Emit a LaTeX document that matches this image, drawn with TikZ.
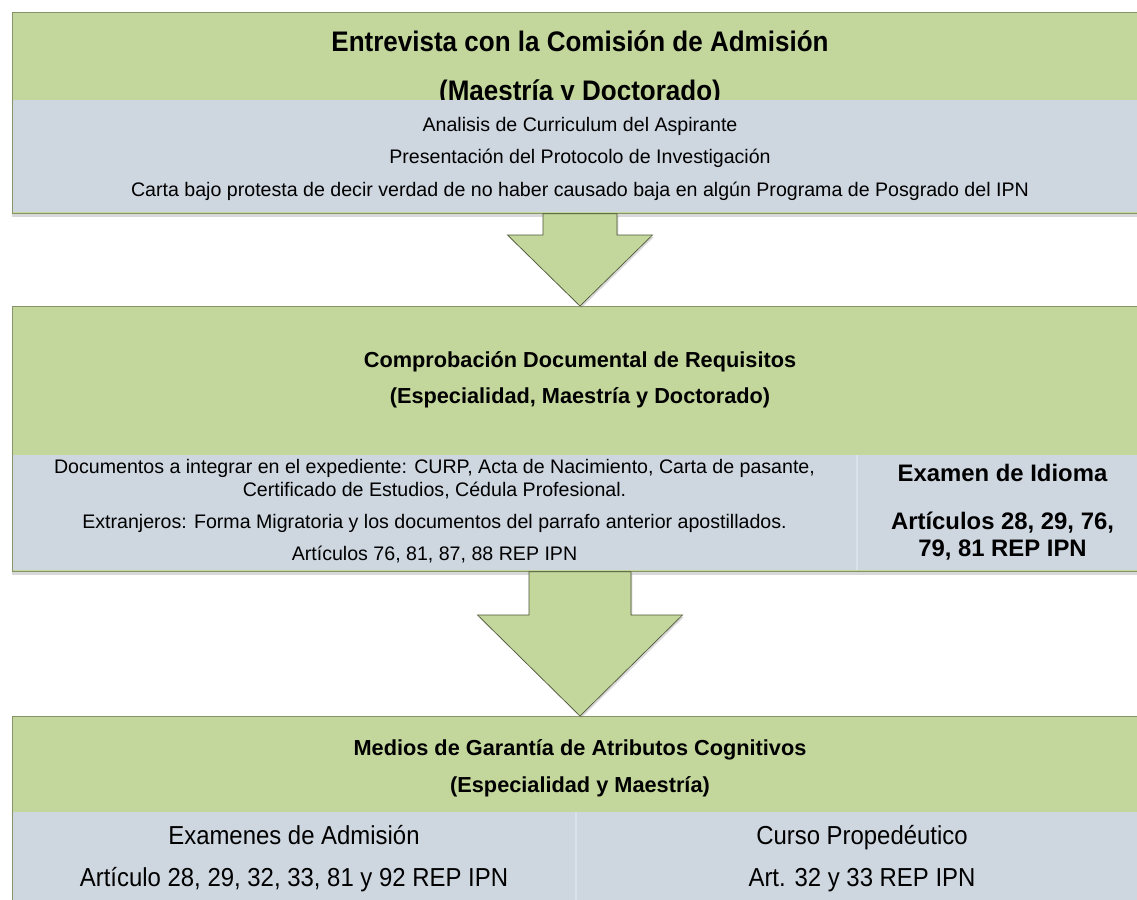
\documentclass[tikz,border=0pt]{standalone}
\usepackage{fontspec}
\setmainfont{Liberation Sans}
\newfontfamily\narrowsans[FakeStretch=0.92]{Liberation Sans}
\usepackage{tikz}
\usetikzlibrary{calc}
\usetikzlibrary{shadows}

\definecolor{olivefill}{RGB}{195,214,155}
\definecolor{oliveline}{RGB}{135,148,105}
\definecolor{slatefill}{RGB}{206,214,224}
\definecolor{slategap}{RGB}{218,225,233}
\definecolor{arrowline}{RGB}{75,85,55}

\begin{document}
\begin{tikzpicture}[x=0.75pt,y=-0.75pt,
    block/.style={rectangle,anchor=north west,inner sep=0pt,fill=olivefill,draw=oliveline,line width=0.6pt,
      minimum width=900pt,drop shadow={shadow xshift=0pt,shadow yshift=-3pt,opacity=0.3}},
    panel/.style={rectangle,anchor=north west,inner sep=0pt,fill=slatefill},
    blockarrow/.style={fill=olivefill,draw=arrowline,line width=0.5pt,line join=miter,
      drop shadow={shadow xshift=1pt,shadow yshift=-1.5pt,opacity=0.3}},
    bigtitle/.style={anchor=base,align=center,inner sep=0pt,font=\narrowsans\bfseries\fontsize{21.2}{36}\selectfont},
    subtitle/.style={anchor=base,align=center,inner sep=0pt,font=\bfseries\fontsize{16.3}{27}\selectfont},
    plaintext/.style={anchor=base,align=center,inner sep=0pt,font=\fontsize{14.7}{24.4}\selectfont}]
    \useasboundingbox (0,0) rectangle (1137,899);
    \fill[white] (0,0) rectangle (1137,899);
    \clip (0,0) rectangle (1137,899);

    \node[block,minimum height=150.75pt] (entrevista) at (12,12) {};
    \node[bigtitle] (entrevistaTitulo) at (580,100) {Entrevista con la Comisión de Admisión\\(Maestría y Doctorado)};
    \node[panel,minimum width=892.5pt,minimum height=84pt] (entrevistaPanel) at (13,100) {};
    \node[plaintext] (entrevistaReq) at (580,196.5) {Analisis de Curriculum del Aspirante\\
      Presentación del Protocolo de Investigación\\
      Carta bajo protesta de decir verdad de no haber causado baja en algún Programa de Posgrado del IPN};

    \node[block,minimum height=198.75pt] (documental) at (12,306) {};
    \node[subtitle] (documentalTitulo) at (580,403) {Comprobación Documental de Requisitos\\(Especialidad, Maestría y Doctorado)};
    \node[panel,fill=slategap,minimum width=892.5pt,minimum height=86.25pt] (documentalPanel) at (13,455) {};
    \node[panel,minimum width=632.25pt,minimum height=86.25pt] (documentos) at (13,455) {};
    \node[panel,minimum width=256.5pt,minimum height=86.25pt] (idioma) at (858,455) {};
    \node[plaintext,font=\fontsize{14.7}{17.25}\selectfont] (documentosTxt) at (434.5,560)
      {Documentos a integrar en el expediente: CURP, Acta de Nacimiento, Carta de pasante,\\
      Certificado de Estudios, Cédula Profesional.\\[6.75pt]
      Extranjeros: Forma Migratoria y los documentos del parrafo anterior apostillados.\\[6.75pt]
      Artículos 76, 81, 87, 88 REP IPN};
    \node[plaintext,font=\bfseries\fontsize{17.9}{20.25}\selectfont] (idiomaTxt) at (1002.5,556)
      {Examen de Idioma\\[15.75pt]Artículos 28, 29, 76,\\79, 81 REP IPN};

    \node[block,minimum height=141.75pt] (garantia) at (12,716) {};
    \node[subtitle,font=\bfseries\fontsize{16.3}{27.75}\selectfont] (garantiaTitulo) at (580,792) {Medios de Garantía de Atributos Cognitivos\\(Especialidad y Maestría)};
    \node[panel,fill=slategap,minimum width=892.5pt,minimum height=69.75pt] (garantiaPanel) at (13,812) {};
    \node[panel,minimum width=421.5pt,minimum height=69.75pt] (examenes) at (13,812) {};
    \node[panel,minimum width=467.25pt,minimum height=69.75pt] (curso) at (577,812) {};
    \node[plaintext,font=\narrowsans\fontsize{19.5}{31.5}\selectfont] (examenesTxt) at (294,886)
      {Examenes de Admisión\\Artículo 28, 29, 32, 33, 81 y 92 REP IPN};
    \node[plaintext,font=\narrowsans\fontsize{19.5}{31.5}\selectfont] (cursoTxt) at (862,886)
      {Curso Propedéutico\\Art. 32 y 33 REP IPN};

    \draw[blockarrow] ($(entrevista.south west)+(531,0)$) |- ($(documental.north west)+(495.5,-71)$)
      -- ($(documental.north west)+(568,0)$) -- ($(documental.north west)+(640.5,-71)$)
      -| ($(entrevista.south west)+(605,0)$) -- cycle;
    \draw[blockarrow] ($(documental.south west)+(517,0)$) |- ($(garantia.north west)+(465.5,-101)$)
      -- ($(garantia.north west)+(568,0)$) -- ($(garantia.north west)+(670.5,-101)$)
      -| ($(documental.south west)+(619,0)$) -- cycle;
\end{tikzpicture}
\end{document}
